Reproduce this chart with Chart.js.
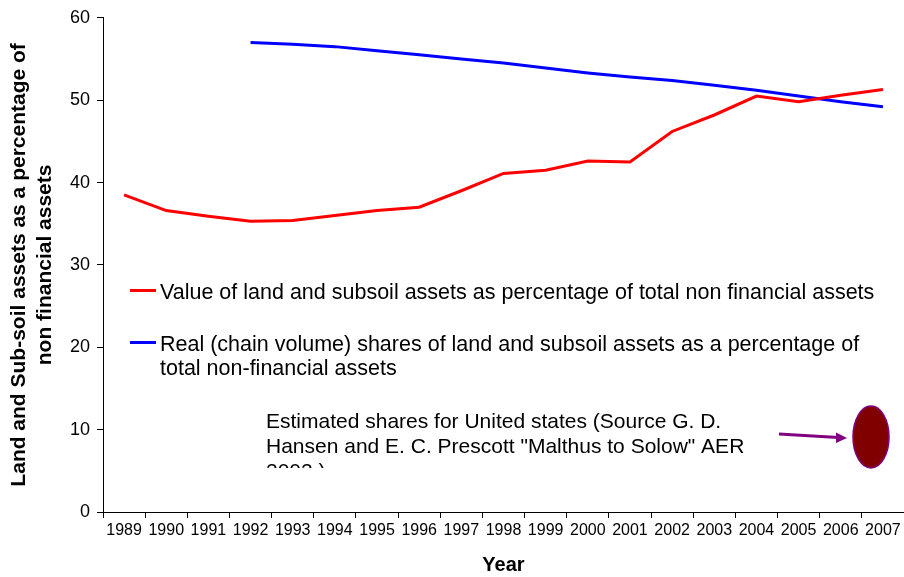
<!DOCTYPE html>
<html>
<head>
<meta charset="utf-8">
<script src="https://cdn.jsdelivr.net/npm/chart.js@4.4.0/dist/chart.umd.min.js"></script>
<style>
  html, body { margin: 0; padding: 0; background: #fff; }
  #wrap { width: 904px; height: 577px; }
</style>
</head>
<body>
<div id="wrap"><canvas id="myChart" width="904" height="577"></canvas></div>
<script>
const years = ['1989','1990','1991','1992','1993','1994','1995','1996','1997','1998','1999','2000','2001','2002','2003','2004','2005','2006','2007'];
const valueShare = [38.5, 36.6, 35.9, 35.3, 35.4, 36.0, 36.6, 37.0, 39.0, 41.1, 41.5, 42.6, 42.5, 46.2, 48.2, 50.5, 49.8, 50.6, 51.3];
const realShare = [null, null, null, 57.0, 56.8, 56.5, 56.0, 55.5, 55.0, 54.5, 53.9, 53.3, 52.8, 52.4, 51.8, 51.2, 50.5, 49.8, 49.2];
const yTicks = [0, 10, 20, 30, 40, 50, 60];
const seriesNames = [
    ['Value of land and subsoil assets as percentage of total non financial assets'],
    ['Real (chain volume) shares of land and subsoil assets as a percentage of', 'total non-financial assets']
];
const noteLines = ['Estimated shares for United states (Source G. D.', 'Hansen and E. C. Prescott "Malthus to Solow" AER', '2002 )'];

const FONT = '"Liberation Sans", Arial, sans-serif';

// legend + note + arrow/ellipse drawn on top of the chart area
const extras = {
    id: 'extras',
    afterDatasetsDraw(chart) {
        const ctx = chart.ctx;
        const colors = ['#ff0000', '#0000ff'];
        const rows = [299, 351];
        ctx.save();
        ctx.font = '21.5px ' + FONT;
        ctx.fillStyle = '#000';
        ctx.textBaseline = 'alphabetic';
        seriesNames.forEach((lines, i) => {
            ctx.strokeStyle = colors[i];
            ctx.lineWidth = 3;
            ctx.beginPath();
            ctx.moveTo(130, rows[i] - 8.5);
            ctx.lineTo(156, rows[i] - 8.5);
            ctx.stroke();
            lines.forEach((t, j) => ctx.fillText(t, 160, rows[i] + j * 24));
        });

        // note, last line cut off like the original text box
        ctx.save();
        ctx.font = '21px ' + FONT;
        ctx.beginPath();
        ctx.rect(250, 395, 520, 73);
        ctx.clip();
        noteLines.forEach((t, j) => ctx.fillText(t, 266, 428 + j * 25));
        ctx.restore();

        // arrow
        ctx.strokeStyle = '#800080';
        ctx.fillStyle = '#800080';
        ctx.lineWidth = 3;
        ctx.beginPath();
        ctx.moveTo(779, 434);
        ctx.lineTo(838, 437.5);
        ctx.stroke();
        ctx.beginPath();
        ctx.moveTo(847, 438);
        ctx.lineTo(836, 432.5);
        ctx.lineTo(836, 443);
        ctx.closePath();
        ctx.fill();

        // US estimate marker
        ctx.beginPath();
        ctx.ellipse(871, 437, 18, 31, 0, 0, Math.PI * 2);
        ctx.fillStyle = '#800000';
        ctx.fill();
        ctx.lineWidth = 1.5;
        ctx.strokeStyle = '#800080';
        ctx.stroke();
        ctx.restore();
    }
};

const ctx = document.getElementById('myChart').getContext('2d');
const myChart = new Chart(ctx, {
    type: 'line',
    data: {
        labels: years,
        datasets: [{
            label: seriesNames[0].join(' '),
            data: valueShare,
            borderColor: '#ff0000',
            borderWidth: 3,
            pointRadius: 0,
            tension: 0
        }, {
            label: seriesNames[1].join(' '),
            data: realShare,
            borderColor: '#0000ff',
            borderWidth: 3,
            pointRadius: 0,
            tension: 0
        }]
    },
    options: {
        responsive: false,
        animation: false,
        layout: { padding: { top: 17, right: 0, left: 0, bottom: 0 } },
        plugins: { legend: { display: false }, tooltip: { enabled: false } },
        scales: {
            x: {
                offset: true,
                grid: { offset: true, drawOnChartArea: false, drawTicks: true, tickLength: 6, color: '#000' },
                border: { color: '#000', width: 1 },
                ticks: { color: '#000', font: { family: FONT, size: 16 }, padding: 3, maxRotation: 0, autoSkip: false },
                title: { display: true, text: 'Year', color: '#000', font: { family: FONT, size: 20, weight: 'bold' }, padding: { top: 0, bottom: 0 } },
                afterFit(scale) { scale.height = 65; }
            },
            y: {
                min: 0,
                max: 60,
                afterBuildTicks(scale) { scale.ticks = yTicks.map(v => ({ value: v })); },
                grid: { drawOnChartArea: false, drawTicks: true, tickLength: 6, color: '#000' },
                border: { color: '#000', width: 1 },
                ticks: { color: '#000', font: { family: FONT, size: 18 }, padding: 7 },
                title: {
                    display: true,
                    text: ['Land and Sub-soil assets as a percentage of', 'non financial assets'],
                    color: '#000',
                    font: { family: FONT, size: 21, weight: 'bold', lineHeight: 1.2 },
                    padding: { top: 7, bottom: 0 }
                },
                afterFit(scale) { scale.width = 103; }
            }
        }
    },
    plugins: [extras]
});
</script>
</body>
</html>
